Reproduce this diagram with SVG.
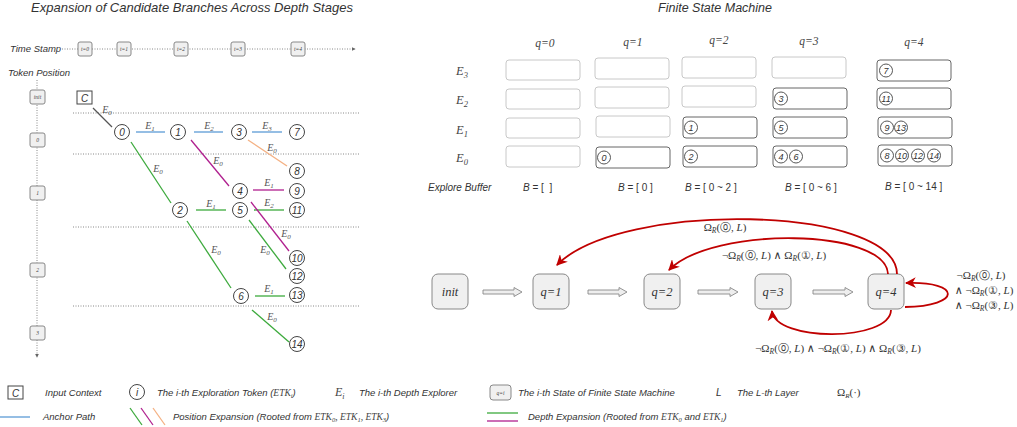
<svg xmlns="http://www.w3.org/2000/svg" width="1017" height="427" viewBox="0 0 1017 427">
<defs>
<style>
.t{font-family:"Liberation Sans",Arial,sans-serif;font-style:italic;fill:#333}
.m{font-family:"Liberation Serif","DejaVu Serif",serif;fill:#333}
.mi{font-family:"Liberation Serif","DejaVu Serif",serif;font-style:italic;fill:#444}
.dot{stroke:#888;stroke-width:1;stroke-dasharray:1 1.5;fill:none}
.tk circle{fill:#fff;stroke:#444;stroke-width:1}
.tk text{font-family:"Liberation Sans",Arial,sans-serif;font-style:italic;font-size:10px;text-anchor:middle;fill:#333}
.sm circle{fill:#fff;stroke:#444;stroke-width:0.9}
.sm text{font-family:"Liberation Sans",Arial,sans-serif;font-style:italic;font-size:9px;text-anchor:middle;fill:#333}
.gbox{fill:#f0f0f0;stroke:#888;stroke-width:1}
.tiny{font-family:"Liberation Serif",serif;font-style:italic;font-size:5.5px;fill:#444;text-anchor:middle}
.lbl{font-family:"Liberation Serif","DejaVu Serif",serif;font-style:italic;font-size:10px;fill:#555;text-anchor:middle}
.blue{stroke:#5b9bd5;stroke-width:1.3}
.green{stroke:#3daa3d;stroke-width:1.3}
.mag{stroke:#b0208f;stroke-width:1.3}
.org{stroke:#f4b183;stroke-width:1.3}
.empty{fill:#fff;stroke:#c8c8c8;stroke-width:1}
.full{fill:#fff;stroke:#666;stroke-width:1}
.state rect{fill:#f0f0f0;stroke:#888;stroke-width:1}
.state text{font-family:"Liberation Serif",serif;font-style:italic;font-size:12.5px;text-anchor:middle;fill:#333}
.hol{fill:#eee;stroke:#888;stroke-width:0.9}
.red{stroke:#c00000;stroke-width:1.8;fill:none;marker-end:url(#ra)}
.ml{font-family:"Liberation Serif","DejaVu Serif",serif;font-size:11px;fill:#333;text-anchor:middle}
</style>
<marker id="ra" viewBox="0 0 10 10" refX="9" refY="5" markerWidth="11" markerHeight="11" markerUnits="userSpaceOnUse" orient="auto">
<path d="M0,0 L10,5 L0,10 L3,5 z" fill="#c00000"/>
</marker>
<marker id="ga" viewBox="0 0 6 6" refX="5" refY="3" markerWidth="4" markerHeight="4" markerUnits="userSpaceOnUse" orient="auto">
<path d="M0,0 L6,3 L0,6 z" fill="#666"/>
</marker>
</defs>

<!-- Left panel -->
<text class="t" x="192" y="12" font-size="13" text-anchor="middle">Expansion of Candidate Branches Across Depth Stages</text>
<text class="t" x="10" y="52" font-size="9.5">Time Stamp</text>
<line class="dot" x1="62" y1="49" x2="355" y2="49" marker-end="url(#ga)"/>
<g id="timestamps">
<rect class="gbox" x="78" y="42" width="14" height="14" rx="2"/><text class="tiny" x="85" y="51">t=0</text>
<rect class="gbox" x="117" y="42" width="14" height="14" rx="2"/><text class="tiny" x="124" y="51">t=1</text>
<rect class="gbox" x="174" y="42" width="14" height="14" rx="2"/><text class="tiny" x="181" y="51">t=2</text>
<rect class="gbox" x="231" y="42" width="14" height="14" rx="2"/><text class="tiny" x="238" y="51">t=3</text>
<rect class="gbox" x="291" y="42" width="14" height="14" rx="2"/><text class="tiny" x="298" y="51">t=4</text>
</g>
<text class="t" x="8" y="76" font-size="9.5">Token Position</text>
<line class="dot" x1="37" y1="80" x2="37" y2="357" marker-end="url(#ga)"/>
<g id="positions">
<rect class="gbox" x="30" y="90" width="15" height="14" rx="2"/><text class="tiny" x="37.5" y="99">init</text>
<rect class="gbox" x="30" y="133" width="15" height="14" rx="2"/><text class="tiny" x="37.5" y="142" font-size="6.5" font-style="normal">0</text>
<rect class="gbox" x="30" y="186" width="15" height="14" rx="2"/><text class="tiny" x="37.5" y="195" font-size="6.5" font-style="normal">1</text>
<rect class="gbox" x="30" y="263" width="15" height="14" rx="2"/><text class="tiny" x="37.5" y="272" font-size="6.5" font-style="normal">2</text>
<rect class="gbox" x="30" y="326" width="15" height="14" rx="2"/><text class="tiny" x="37.5" y="335" font-size="6.5" font-style="normal">3</text>
</g>
<g id="layers">
<line class="dot" x1="73" y1="113" x2="360" y2="113"/>
<line class="dot" x1="73" y1="154" x2="360" y2="154"/>
<line class="dot" x1="73" y1="227" x2="360" y2="227"/>
<line class="dot" x1="73" y1="306" x2="360" y2="306"/>
</g>
<g id="ctx">
<rect x="77" y="91" width="15" height="13" fill="#fff" stroke="#444"/>
<text class="t" x="84.5" y="101.5" font-size="10" text-anchor="middle">C</text>
</g>

<g id="connectors">
<line x1="93" y1="108" x2="112" y2="127" stroke="#555" stroke-width="1.2"/>
<line class="blue" x1="136" y1="132" x2="165" y2="132"/>
<line class="blue" x1="194" y1="132" x2="223" y2="132"/>
<line class="blue" x1="252" y1="132" x2="282" y2="132"/>
<line class="org" x1="248" y1="140" x2="287" y2="166"/>
<line class="mag" x1="191" y1="140" x2="229" y2="186"/>
<line class="mag" x1="253" y1="190" x2="284" y2="190"/>
<line class="green" x1="131" y1="142" x2="171" y2="203"/>
<line class="green" x1="196" y1="210" x2="226" y2="210"/>
<line class="green" x1="254" y1="210" x2="284" y2="210"/>
<line class="mag" x1="251" y1="202" x2="289" y2="251"/>
<line class="green" x1="249" y1="220" x2="286" y2="269"/>
<line class="green" x1="187" y1="221" x2="231" y2="288"/>
<line class="green" x1="255" y1="296" x2="285" y2="296"/>
<line class="green" x1="252" y1="310" x2="289" y2="342"/>
<g id="edge-labels">
<text class="lbl" x="107" y="113">E<tspan font-size="7" dy="2">0</tspan></text>
<text class="lbl" x="150" y="129">E<tspan font-size="7" dy="2">1</tspan></text>
<text class="lbl" x="209" y="129">E<tspan font-size="7" dy="2">2</tspan></text>
<text class="lbl" x="267" y="129">E<tspan font-size="7" dy="2">3</tspan></text>
<text class="lbl" x="272" y="151">E<tspan font-size="7" dy="2">0</tspan></text>
<text class="lbl" x="218" y="164">E<tspan font-size="7" dy="2">0</tspan></text>
<text class="lbl" x="269" y="186">E<tspan font-size="7" dy="2">1</tspan></text>
<text class="lbl" x="158" y="172">E<tspan font-size="7" dy="2">0</tspan></text>
<text class="lbl" x="211" y="207">E<tspan font-size="7" dy="2">1</tspan></text>
<text class="lbl" x="269" y="206">E<tspan font-size="7" dy="2">2</tspan></text>
<text class="lbl" x="286" y="237">E<tspan font-size="7" dy="2">0</tspan></text>
<text class="lbl" x="265" y="253">E<tspan font-size="7" dy="2">0</tspan></text>
<text class="lbl" x="216" y="253">E<tspan font-size="7" dy="2">0</tspan></text>
<text class="lbl" x="269" y="292">E<tspan font-size="7" dy="2">1</tspan></text>
<text class="lbl" x="272" y="320">E<tspan font-size="7" dy="2">0</tspan></text>
</g>
</g>

<g id="n0" class="tk"><circle cx="122" cy="132" r="7.5"/><text x="122" y="135.5">0</text></g>
<g id="n1" class="tk"><circle cx="178" cy="132" r="7.5"/><text x="178" y="135.5">1</text></g>
<g id="n3" class="tk"><circle cx="239" cy="132" r="7.5"/><text x="239" y="135.5">3</text></g>
<g id="n7" class="tk"><circle cx="297" cy="132" r="7.5"/><text x="297" y="135.5">7</text></g>
<g id="n8" class="tk"><circle cx="297" cy="171" r="7.5"/><text x="297" y="174.5">8</text></g>
<g id="n4" class="tk"><circle cx="240" cy="191" r="7.5"/><text x="240" y="194.5">4</text></g>
<g id="n9" class="tk"><circle cx="297" cy="191" r="7.5"/><text x="297" y="194.5">9</text></g>
<g id="n2" class="tk"><circle cx="180" cy="210" r="7.5"/><text x="180" y="213.5">2</text></g>
<g id="n5" class="tk"><circle cx="240" cy="210" r="7.5"/><text x="240" y="213.5">5</text></g>
<g id="n11" class="tk"><circle cx="297" cy="210" r="7.5"/><text x="297" y="213.5">11</text></g>
<g id="n10" class="tk"><circle cx="297" cy="258" r="7.5"/><text x="297" y="261.5">10</text></g>
<g id="n12" class="tk"><circle cx="297" cy="276" r="7.5"/><text x="297" y="279.5">12</text></g>
<g id="n6" class="tk"><circle cx="241" cy="296" r="7.5"/><text x="241" y="299.5">6</text></g>
<g id="n13" class="tk"><circle cx="297" cy="295" r="7.5"/><text x="297" y="298.5">13</text></g>
<g id="n14" class="tk"><circle cx="297" cy="344" r="7.5"/><text x="297" y="347.5">14</text></g>

<!-- Right panel -->
<text class="t" x="715" y="12" font-size="12.5" text-anchor="middle">Finite State Machine</text>
<g id="headers" class="mi" font-size="11.5" text-anchor="middle">
<text x="545" y="47">q=0</text>
<text x="633" y="46">q=1</text>
<text x="719" y="44">q=2</text>
<text x="809" y="45">q=3</text>
<text x="914" y="46">q=4</text>
</g>
<g id="rowlabels" class="mi" font-size="12.5">
<text x="456" y="75">E<tspan font-size="8.5" dy="3">3</tspan></text>
<text x="456" y="104">E<tspan font-size="8.5" dy="3">2</tspan></text>
<text x="456" y="134">E<tspan font-size="8.5" dy="3">1</tspan></text>
<text x="456" y="162">E<tspan font-size="8.5" dy="3">0</tspan></text>
</g>
<g id="col-q0">
<rect class="empty" x="506" y="60" width="74" height="20" rx="3"/>
<rect class="empty" x="506" y="89" width="74" height="20" rx="3"/>
<rect class="empty" x="506" y="118" width="74" height="20" rx="3"/>
<rect class="empty" x="506" y="146" width="74" height="21" rx="3"/>
</g>
<g id="col-q1">
<rect class="empty" x="595" y="58" width="74" height="21" rx="3"/>
<rect class="empty" x="595" y="87" width="74" height="21" rx="3"/>
<rect class="empty" x="596" y="116" width="74" height="21" rx="3"/>
<rect class="full" x="596" y="147" width="74" height="21" rx="3"/>
<g class="sm"><circle cx="604" cy="157.5" r="6.5"/><text x="604" y="160.8">0</text></g>
</g>
<g id="col-q2">
<rect class="empty" x="682" y="57" width="74" height="21" rx="3"/>
<rect class="empty" x="682" y="86" width="74" height="21" rx="3"/>
<rect class="full" x="683" y="117" width="74" height="21" rx="3"/>
<rect class="full" x="683" y="146" width="74" height="21" rx="3"/>
<g class="sm"><circle cx="691" cy="127.5" r="6.5"/><text x="691" y="130.8">1</text></g>
<g class="sm"><circle cx="691" cy="156.5" r="6.5"/><text x="691" y="159.8">2</text></g>
</g>
<g id="col-q3">
<rect class="empty" x="772" y="57" width="74" height="21" rx="3"/>
<rect class="full" x="773" y="88" width="74" height="21" rx="3"/>
<rect class="full" x="773" y="117" width="74" height="21" rx="3"/>
<rect class="full" x="773" y="146" width="74" height="21" rx="3"/>
<g class="sm"><circle cx="781" cy="98.5" r="6.5"/><text x="781" y="101.8">3</text></g>
<g class="sm"><circle cx="781" cy="127.5" r="6.5"/><text x="781" y="130.8">5</text></g>
<g class="sm"><circle cx="781" cy="156.5" r="6.5"/><text x="781" y="159.8">4</text></g>
<g class="sm"><circle cx="796" cy="156.5" r="6.5"/><text x="796" y="159.8">6</text></g>
</g>
<g id="col-q4">
<rect class="full" x="877" y="60" width="74" height="21" rx="3"/>
<rect class="full" x="877" y="88" width="74" height="21" rx="3"/>
<rect class="full" x="878" y="117" width="74" height="21" rx="3"/>
<rect class="full" x="878" y="145" width="74" height="21" rx="3"/>
<g class="sm"><circle cx="886" cy="70.5" r="6.5"/><text x="886" y="73.8">7</text></g>
<g class="sm"><circle cx="886" cy="98.5" r="6.5"/><text x="886" y="101.5" font-size="8">11</text></g>
<g class="sm"><circle cx="887" cy="127.5" r="6.5"/><text x="887" y="130.8">9</text></g>
<g class="sm"><circle cx="901" cy="127.5" r="6.5"/><text x="901" y="130.5" font-size="8">13</text></g>
<g class="sm"><circle cx="887" cy="155.5" r="6.5"/><text x="887" y="158.8">8</text></g>
<g class="sm"><circle cx="902" cy="155.5" r="6.5"/><text x="902" y="158.5" font-size="8">10</text></g>
<g class="sm"><circle cx="918" cy="155.5" r="6.5"/><text x="918" y="158.5" font-size="8">12</text></g>
<g class="sm"><circle cx="934" cy="155.5" r="6.5"/><text x="934" y="158.5" font-size="8">14</text></g>
</g>
<g id="buffers" class="t" font-size="10">
<text x="428" y="191">Explore Buffer</text>
<text x="523" y="191" style="font-style:normal"><tspan font-style="italic">B</tspan> = [ &#160;]</text>
<text x="618" y="191" style="font-style:normal"><tspan font-style="italic">B</tspan> = [ 0 ]</text>
<text x="685" y="191" style="font-style:normal"><tspan font-style="italic">B</tspan> = [ 0 ~ 2 ]</text>
<text x="785" y="191" style="font-style:normal"><tspan font-style="italic">B</tspan> = [ 0 ~ 6 ]</text>
<text x="885" y="190" style="font-style:normal"><tspan font-style="italic">B</tspan> = [ 0 ~ 14 ]</text>
</g>

<g id="s-init" class="state"><rect x="432" y="274" width="36" height="35" rx="6"/><text x="450" y="296">init</text></g>
<g id="s-q1" class="state"><rect x="533" y="274" width="36" height="35" rx="6"/><text x="551" y="296">q=1</text></g>
<g id="s-q2" class="state"><rect x="644" y="274" width="36" height="35" rx="6"/><text x="662" y="296">q=2</text></g>
<g id="s-q3" class="state"><rect x="755" y="274" width="36" height="35" rx="6"/><text x="773" y="296">q=3</text></g>
<g id="s-q4" class="state"><rect x="868" y="274" width="36" height="35" rx="6"/><text x="886" y="296">q=4</text></g>

<g id="fsm-connectors">
<path class="hol" d="M483,290 L514,290 L514,287.5 L522,292 L514,296.5 L514,294 L483,294 Z"/>
<path class="hol" d="M588,290 L619,290 L619,287.5 L627,292 L619,296.5 L619,294 L588,294 Z"/>
<path class="hol" d="M698,290 L730,290 L730,287.5 L738,292 L730,296.5 L730,294 L698,294 Z"/>
<path class="hol" d="M813,290 L845,290 L845,287.5 L853,292 L845,296.5 L845,294 L813,294 Z"/>
<path class="red" d="M897,274 C896,205 620,200 557,265"/>
<path class="red" d="M888,274 C886,228 712,226 669,270"/>
<path class="red" d="M905,307 C962,306 962,281 906,283"/>
<path class="red" d="M891,310 C890,342 775,342 772,311"/>
<text class="ml" x="725" y="231">Ω<tspan font-size="7.5" font-style="italic" dy="2">R</tspan><tspan dy="-2">(⓪, </tspan><tspan font-style="italic">L</tspan>)</text>
<text class="ml" x="774" y="259">¬Ω<tspan font-size="7.5" font-style="italic" dy="2">R</tspan><tspan dy="-2">(⓪, </tspan><tspan font-style="italic">L</tspan>) ∧ Ω<tspan font-size="7.5" font-style="italic" dy="2">R</tspan><tspan dy="-2">(①, </tspan><tspan font-style="italic">L</tspan>)</text>
<text class="ml" x="981" y="279">¬Ω<tspan font-size="7.5" font-style="italic" dy="2">R</tspan><tspan dy="-2">(⓪, </tspan><tspan font-style="italic">L</tspan>)</text>
<text class="ml" x="984" y="294">∧ ¬Ω<tspan font-size="7.5" font-style="italic" dy="2">R</tspan><tspan dy="-2">(①, </tspan><tspan font-style="italic">L</tspan>)</text>
<text class="ml" x="984" y="309">∧ ¬Ω<tspan font-size="7.5" font-style="italic" dy="2">R</tspan><tspan dy="-2">(③, </tspan><tspan font-style="italic">L</tspan>)</text>
<text class="ml" x="838" y="352">¬Ω<tspan font-size="7.5" font-style="italic" dy="2">R</tspan><tspan dy="-2">(⓪, </tspan><tspan font-style="italic">L</tspan>) ∧ ¬Ω<tspan font-size="7.5" font-style="italic" dy="2">R</tspan><tspan dy="-2">(①, </tspan><tspan font-style="italic">L</tspan>) ∧ Ω<tspan font-size="7.5" font-style="italic" dy="2">R</tspan><tspan dy="-2">(③, </tspan><tspan font-style="italic">L</tspan>)</text>
</g>

<!-- Legend -->
<g id="legend">
<rect x="8" y="386" width="15" height="13" fill="#fff" stroke="#444"/>
<text class="t" x="15.5" y="396.5" font-size="10" text-anchor="middle">C</text>
<text class="t" x="45" y="396" font-size="9.5">Input Context</text>
<g class="tk"><circle cx="137" cy="392" r="7.5"/><text x="137" y="395.5">i</text></g>
<text class="t" x="157" y="396" font-size="9.5">The i-th Exploration Token (<tspan class="mi" font-size="9.5">ETK</tspan><tspan class="mi" font-size="6.5" dy="2">i</tspan><tspan dy="-2">)</tspan></text>
<text class="mi" x="335" y="396" font-size="12">E<tspan font-size="8" dy="3">i</tspan></text>
<text class="t" x="359" y="396" font-size="9.5">The i-th Depth Explorer</text>
<rect class="gbox" x="490" y="385" width="21" height="15" rx="3"/>
<text class="tiny" x="500.5" y="394.5" font-size="6">q=i</text>
<text class="t" x="518" y="396" font-size="9.5">The i-th State of Finite State Machine</text>
<text class="t" x="716" y="396" font-size="10">L</text>
<text class="t" x="737" y="396" font-size="9.5">The L-th Layer</text>
<text class="m" x="837" y="396" font-size="11">Ω<tspan font-size="7" font-style="italic" dy="2">R</tspan><tspan dy="-2">(·)</tspan></text>
<line class="blue" x1="0" y1="417" x2="30" y2="417"/>
<text class="t" x="43" y="420" font-size="9.5">Anchor Path</text>
<line class="green" x1="130" y1="408" x2="142" y2="425"/>
<line class="mag" x1="141" y1="408" x2="153" y2="425"/>
<line class="org" x1="153" y1="408" x2="165" y2="425"/>
<text class="t" x="173" y="420" font-size="9.5">Position Expansion (Rooted from <tspan class="mi">ETK</tspan><tspan class="mi" font-size="6.5" dy="2">0</tspan><tspan dy="-2" class="mi">, ETK</tspan><tspan class="mi" font-size="6.5" dy="2">1</tspan><tspan dy="-2" class="mi">, ETK</tspan><tspan class="mi" font-size="6.5" dy="2">3</tspan><tspan dy="-2">)</tspan></text>
<line class="green" x1="487" y1="413" x2="518" y2="413"/>
<line class="mag" x1="487" y1="421" x2="518" y2="421"/>
<text class="t" x="528" y="420" font-size="9.5">Depth Expansion (Rooted from <tspan class="mi">ETK</tspan><tspan class="mi" font-size="6.5" dy="2">0</tspan><tspan dy="-2"> and </tspan><tspan class="mi">ETK</tspan><tspan class="mi" font-size="6.5" dy="2">1</tspan><tspan dy="-2">)</tspan></text>
</g>
</svg>
